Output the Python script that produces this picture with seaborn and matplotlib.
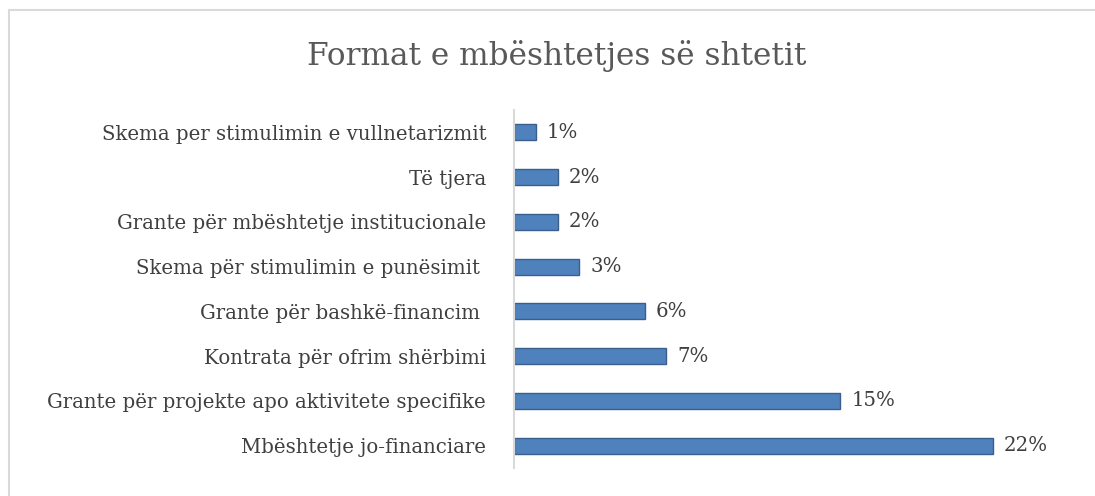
import pandas as pd
import matplotlib
matplotlib.use("Agg")
import matplotlib.pyplot as plt
from matplotlib.lines import Line2D
import seaborn as sns

categories = [
    "Skema per stimulimin e vullnetarizmit",
    "Të tjera",
    "Grante për mbështetje institucionale",
    "Skema për stimulimin e punësimit ",
    "Grante për bashkë-financim ",
    "Kontrata për ofrim shërbimi",
    "Grante për projekte apo aktivitete specifike",
    "Mbështetje jo-financiare",
]
values = [1, 2, 2, 3, 6, 7, 15, 22]

df = pd.DataFrame({"forma": categories, "pct": values})

sns.set_style("white")
plt.rcParams["font.family"] = ["DejaVu Serif"]

fig = plt.figure(figsize=(10.95, 4.96), dpi=100)
ax = fig.add_axes([514 / 1095, 28 / 496, 544 / 1095, 358 / 496])

sns.barplot(data=df, x="pct", y="forma", orient="h", color="#4F81BD",
            saturation=1, width=0.36, edgecolor="#3A5F8C", linewidth=1.0, ax=ax)

ax.set_xlim(0, 25)
ax.set_ylim(7.5, -0.5)
ax.set_xlabel("")
ax.set_ylabel("")
ax.set_xticks([])
for s in ["top", "right", "bottom"]:
    ax.spines[s].set_visible(False)
ax.spines["left"].set_color("#D9D9D9")
ax.spines["left"].set_linewidth(1.5)
ax.tick_params(axis="y", length=0, pad=20, labelsize=14.2, labelcolor="#404040")

ax.bar_label(ax.containers[0], labels=[f"{v}%" for v in values],
             padding=8, fontsize=14.2, color="#404040")

fig.text(0.508, 0.887, "Format e mbështetjes së shtetit", ha="center",
         va="center", fontsize=22.4, color="#595959")

# chart-area border (top and left visible)
fig.add_artist(Line2D([8.5 / 1095, 8.5 / 1095], [0, 1 - 9.5 / 496],
                      color="#D9D9D9", lw=1.5, transform=fig.transFigure))
fig.add_artist(Line2D([8.5 / 1095, 1], [1 - 9.5 / 496, 1 - 9.5 / 496],
                      color="#D9D9D9", lw=1.5, transform=fig.transFigure))

fig.savefig("out.png", dpi=100)
